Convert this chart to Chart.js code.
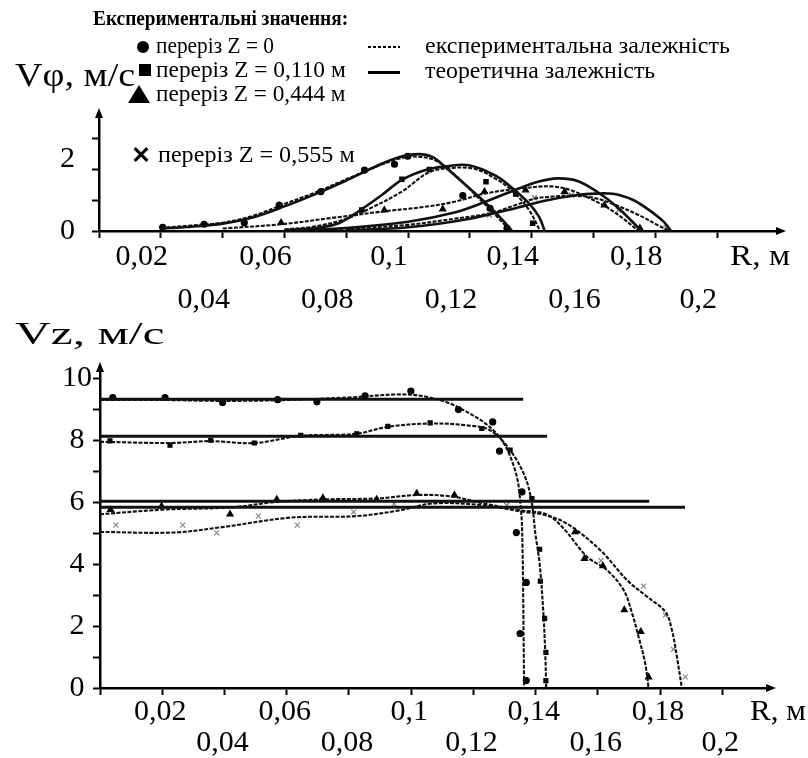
<!DOCTYPE html>
<html>
<head>
<meta charset="utf-8">
<script src="https://cdn.jsdelivr.net/npm/chart.js@4.4.1/dist/chart.umd.min.js"></script>
<style>
  html, body { margin: 0; padding: 0; background: #fff; }
  #page { position: relative; width: 808px; height: 758px; overflow: hidden;
          font-family: 'Liberation Serif', 'Times New Roman', serif; color: #000; }
  canvas { position: absolute; left: 0; }
  .t { position: absolute; white-space: nowrap; line-height: 1; transform-origin: 0 50%; }
  .ico { position: absolute; }
</style>
</head>
<body>
<div id="page">
  <canvas id="topChart" width="808" height="330" style="top:0"></canvas>
  <canvas id="botChart" width="808" height="428" style="top:330px"></canvas>

  <div class="t" data-w="255" style="left:93px;top:20px;font-size:21px;font-weight:bold">Експериментальні значення:</div>

  <div class="ico" style="left:137px;top:41px;width:12px;height:12px;border-radius:50%;background:#000"></div>
  <div class="t" data-w="118" style="left:156px;top:47px;font-size:23px">переріз Z = 0</div>

  <div class="ico" style="left:139px;top:64px;width:12px;height:12px;background:#000"></div>
  <div class="t" data-w="190" style="left:156px;top:71px;font-size:23px">переріз Z = 0,110 м</div>

  <div class="ico" style="left:128px;top:85px;width:0;height:0;border-left:11px solid transparent;border-right:11px solid transparent;border-bottom:18px solid #000"></div>
  <div class="t" data-w="190" style="left:156px;top:95px;font-size:23px">переріз Z = 0,444 м</div>

  <div class="ico" style="left:132px;top:152.5px;width:18px;height:3px;background:#000;transform:rotate(45deg)"></div>
  <div class="ico" style="left:132px;top:152.5px;width:18px;height:3px;background:#000;transform:rotate(-45deg)"></div>
  <div class="t" data-w="197" style="left:158px;top:155px;font-size:24px">переріз Z = 0,555 м</div>

  <div class="ico" style="left:368px;top:46px;width:32px;height:2px;background:repeating-linear-gradient(90deg,#000 0 3px,transparent 3px 5px)"></div>
  <div class="t" data-w="305" style="left:425px;top:47px;font-size:23px">експериментальна залежність</div>

  <div class="ico" style="left:368px;top:70.5px;width:32px;height:3px;background:#000"></div>
  <div class="t" data-w="230" style="left:425px;top:72px;font-size:23px">теоретична залежність</div>

  <div class="t" data-w="120" style="left:15px;top:77px;font-size:34px">Vφ, м/с</div>
  <div class="t" data-w="60" style="left:730px;top:256px;font-size:30px">R, м</div>
  <div class="t" data-w="150" style="left:15px;top:335px;font-size:32px">Vz, м/с</div>
  <div class="t" data-w="56" style="left:750px;top:711px;font-size:30px">R, м</div>
</div>

<script>
// ---- top chart: V_phi(R) ----
// Z = 0
const topR0th  = [0.020, 0.030, 0.040, 0.050, 0.060, 0.070, 0.080, 0.090, 0.097, 0.1035, 0.108, 0.112, 0.118, 0.125, 0.130, 0.1337];
const topV0th  = [0.08, 0.14, 0.24, 0.45, 0.80, 1.20, 1.64, 2.12, 2.40, 2.50, 2.40, 2.08, 1.55, 0.92, 0.42, 0.0];
const topR0exp = [0.020, 0.030, 0.040, 0.050, 0.060, 0.070, 0.080, 0.090, 0.097, 0.102, 0.1088, 0.1152, 0.1229, 0.1283, 0.1326];
const topV0exp = [0.10, 0.18, 0.27, 0.50, 0.88, 1.25, 1.68, 2.10, 2.35, 2.42, 2.30, 1.82, 1.06, 0.52, 0.05];
const topR0pts = [0.0206, 0.034, 0.047, 0.0583, 0.0718, 0.0859, 0.0956, 0.0999, 0.1177, 0.1265, 0.132];
const topV0pts = [0.12, 0.22, 0.27, 0.84, 1.28, 1.98, 2.17, 2.43, 1.15, 0.74, 0.09];
// Z = 0.110 m
const topR1th  = [0.060, 0.070, 0.0775, 0.085, 0.0915, 0.098, 0.1056, 0.112, 0.1197, 0.1283, 0.1337, 0.1391, 0.1424, 0.1442];
const topV1th  = [0.03, 0.10, 0.25, 0.71, 1.17, 1.66, 1.98, 2.10, 2.14, 1.80, 1.40, 0.90, 0.46, 0.0];
const topR1exp = [0.060, 0.070, 0.080, 0.088, 0.098, 0.1066, 0.114, 0.1215, 0.128, 0.134, 0.139, 0.1425];
const topV1exp = [0.05, 0.15, 0.40, 0.75, 1.28, 1.90, 2.05, 2.02, 1.72, 1.28, 0.70, 0.05];
const topR1pts = [0.085, 0.098, 0.1069, 0.1252, 0.1348, 0.1403];
const topV1pts = [0.68, 1.68, 2.00, 1.60, 1.20, 0.25];
// Z = 0.444 m
const topR2th  = [0.060, 0.080, 0.100, 0.115, 0.125, 0.135, 0.142, 0.1484, 0.155, 0.1615, 0.168, 0.1755];
const topV2th  = [0.02, 0.10, 0.30, 0.60, 0.95, 1.35, 1.60, 1.71, 1.62, 1.25, 0.75, 0.0];
const topR2exp = [0.040, 0.059, 0.075, 0.0923, 0.105, 0.115, 0.125, 0.138, 0.146, 0.152, 0.1575, 0.1635, 0.169, 0.1745];
const topV2exp = [0.08, 0.22, 0.42, 0.64, 0.78, 0.95, 1.22, 1.40, 1.45, 1.35, 1.12, 0.82, 0.45, 0.0];
const topR2pts = [0.0589, 0.0923, 0.1112, 0.1247, 0.138, 0.1506, 0.1635, 0.175];
const topV2pts = [0.27, 0.68, 0.71, 1.28, 1.33, 1.28, 0.84, 0.09];
// Z = 0.555 m
const topR3th  = [0.080, 0.100, 0.120, 0.135, 0.145, 0.155, 0.162, 0.1646, 0.168, 0.173, 0.178, 0.1825, 0.1851];
const topV3th  = [0.02, 0.12, 0.40, 0.75, 1.00, 1.17, 1.22, 1.22, 1.18, 1.00, 0.68, 0.32, 0.0];
const topR3exp = [0.060, 0.080, 0.100, 0.115, 0.1263, 0.135, 0.1409, 0.147, 0.1528, 0.160, 0.167, 0.175, 0.181, 0.1845];
const topV3exp = [0.02, 0.08, 0.20, 0.40, 0.57, 0.85, 1.05, 1.12, 1.15, 1.08, 0.85, 0.50, 0.18, 0.0];
const topR3pts = [0.1263, 0.1409, 0.1528, 0.168, 0.1835];
const topV3pts = [0.52, 1.08, 1.17, 0.68, 0.12];

// ---- bottom chart: V_z(R) ----
// theoretical levels and where they end
const botTheoryV   = [9.32, 8.13, 6.03, 5.84];
const botTheoryEnd = [0.136, 0.1437, 0.1765, 0.188];
// Z = 0
const botR0 = [0, 0.020, 0.040, 0.060, 0.080, 0.0965, 0.105, 0.115, 0.1275, 0.1334, 0.1353, 0.1358, 0.1361, 0.1363];
const botV0 = [9.30, 9.30, 9.27, 9.30, 9.38, 9.48, 9.40, 9.07, 8.21, 7.03, 5.74, 4.45, 2.00, 0];
const botR0pts = [0.0041, 0.0209, 0.0394, 0.0571, 0.0697, 0.0852, 0.0999, 0.1152, 0.1262, 0.1284, 0.1356, 0.1338, 0.137, 0.135, 0.137];
const botV0pts = [9.38, 9.38, 9.22, 9.31, 9.24, 9.43, 9.59, 8.99, 8.59, 7.65, 6.33, 5.02, 3.41, 1.76, 0.24];
// Z = 0.110 m
const botR1 = [0, 0.0225, 0.0354, 0.0498, 0.0643, 0.0825, 0.0922, 0.1061, 0.118, 0.1254, 0.1318, 0.1366, 0.1388, 0.1399, 0.1413, 0.1425, 0.1431, 0.1434];
const botV1 = [7.95, 7.91, 7.97, 7.91, 8.14, 8.21, 8.43, 8.54, 8.48, 8.32, 7.68, 6.82, 5.96, 5.00, 4.00, 2.40, 1.10, 0];
const botR1pts = [0.0032, 0.0225, 0.0356, 0.0496, 0.0645, 0.0825, 0.0925, 0.1061, 0.1227, 0.1318, 0.1388, 0.1413, 0.1415, 0.1429, 0.1433, 0.1433];
const botV1pts = [7.98, 7.84, 8.00, 7.91, 8.16, 8.21, 8.45, 8.56, 8.38, 7.68, 6.12, 4.48, 3.45, 2.25, 1.15, 0.24];
// Z = 0.444 m
const botR2 = [0, 0.0204, 0.0418, 0.0568, 0.0718, 0.089, 0.1018, 0.1125, 0.1233, 0.135, 0.1436, 0.149, 0.1565, 0.1629, 0.1683, 0.171, 0.1731, 0.1752, 0.1763];
const botV2 = [5.61, 5.76, 5.83, 6.01, 6.09, 6.12, 6.23, 6.19, 5.96, 5.74, 5.60, 5.15, 4.24, 3.81, 3.16, 2.41, 1.65, 0.80, 0];
const botR2pts = [0.0034, 0.0198, 0.0418, 0.0568, 0.0716, 0.0889, 0.1018, 0.1139, 0.1527, 0.1557, 0.1616, 0.1685, 0.1738, 0.1763];
const botV2pts = [5.76, 5.87, 5.61, 6.09, 6.14, 6.09, 6.28, 6.23, 5.04, 4.18, 3.94, 2.52, 1.82, 0.35];
// Z = 0.555 m
const botR3 = [0, 0.0236, 0.0397, 0.0611, 0.0825, 0.0965, 0.1071, 0.1232, 0.136, 0.1424, 0.150, 0.1608, 0.1694, 0.1758, 0.1817, 0.1838, 0.1854, 0.187];
const botV3 = [5.04, 5.02, 5.20, 5.50, 5.55, 5.74, 5.96, 5.90, 5.69, 5.60, 5.31, 4.45, 3.48, 2.95, 2.46, 1.87, 1.01, 0];
const botR3pts = [0.0051, 0.0266, 0.0375, 0.0509, 0.0634, 0.0815, 0.0945, 0.1307, 0.161, 0.1747, 0.1817, 0.1843, 0.1881];
const botV3pts = [5.26, 5.26, 5.01, 5.55, 5.26, 5.69, 5.94, 5.90, 4.11, 3.29, 2.35, 1.25, 0.36];

const FONT = "'Liberation Serif', 'Times New Roman', serif";
const xy = (R, V) => R.map((r, i) => ({ x: r, y: V[i] }));
const lbl = v => String(+v.toFixed(2)).replace('.', ',');

function curve(R, V, dashed, width) {
  return {
    data: xy(R, V),
    borderColor: '#111',
    borderWidth: width || (dashed ? 2.1 : 2.6),
    borderDash: dashed ? [4, 1.5] : [],
    pointRadius: 0,
    tension: 0.35,
    fill: false,
    clip: false,
  };
}

function marks(R, V, style, size, color) {
  return {
    data: xy(R, V),
    showLine: false,
    pointStyle: style,
    pointRadius: size,
    pointBackgroundColor: color,
    pointBorderColor: color,
    pointBorderWidth: 1.2,
    clip: false,
  };
}

// arrow heads at the ends of both axes
const arrows = {
  id: 'arrows',
  afterDraw(chart) {
    const { ctx, chartArea: a } = chart;
    ctx.save();
    ctx.fillStyle = '#000';
    ctx.beginPath();
    ctx.moveTo(a.left, a.top - 7);
    ctx.lineTo(a.left - 4, a.top + 3);
    ctx.lineTo(a.left + 4, a.top + 3);
    ctx.fill();
    ctx.beginPath();
    ctx.moveTo(a.right + 7, a.bottom);
    ctx.lineTo(a.right - 3, a.bottom - 4);
    ctx.lineTo(a.right - 3, a.bottom + 4);
    ctx.fill();
    ctx.restore();
  },
};

function xAxis(max, fitH, labelOffset, lineHeight, padding) {
  return {
    type: 'linear',
    min: 0,
    max,
    afterBuildTicks: s => { s.ticks = s.ticks.filter(t => t.value < 0.2005); },
    afterFit: s => { s.height = fitH; },
    border: { color: '#000', width: 2.5 },
    grid: { drawOnChartArea: false, drawTicks: true, tickLength: 7, tickColor: '#000', tickWidth: 2 },
    ticks: {
      stepSize: 0.02,
      includeBounds: false,
      autoSkip: false,
      maxRotation: 0,
      labelOffset,
      padding,
      color: '#000',
      font: { family: FONT, size: 30, lineHeight },
      callback: (v, i) => v === 0 ? '' : (i % 2 ? [lbl(v), ''] : ['', lbl(v)]),
    },
  };
}

function yAxis(max, fitW, tickOpts) {
  return {
    min: 0,
    max,
    afterFit: s => { s.width = fitW; },
    border: { color: '#000', width: 2.5 },
    grid: { drawOnChartArea: false, drawTicks: true, tickLength: 7, tickColor: '#000', tickWidth: 2 },
    ticks: Object.assign({ stepSize: 1, includeBounds: false, autoSkip: false, color: '#000' }, tickOpts),
  };
}

function baseOptions(padding, scales) {
  return {
    responsive: false,
    animation: false,
    layout: { padding },
    plugins: { legend: { display: false }, tooltip: { enabled: false } },
    scales,
  };
}

new Chart(document.getElementById('topChart'), {
  type: 'line',
  data: {
    datasets: [
      curve(topR0th, topV0th, false),
      curve(topR1th, topV1th, false),
      curve(topR2th, topV2th, false),
      curve(topR3th, topV3th, false),
      curve(topR0exp, topV0exp, true),
      curve(topR1exp, topV1exp, true),
      curve(topR2exp, topV2exp, true),
      curve(topR3exp, topV3exp, true),
      marks(topR0pts, topV0pts, 'circle', 3, '#000'),
      marks(topR1pts, topV1pts, 'rect', 3, '#000'),
      marks(topR2pts, topV2pts, 'triangle', 3.5, '#000'),
      marks(topR3pts, topV3pts, 'crossRot', 3.5, '#777'),
    ],
  },
  options: baseOptions({ left: 0, top: 115, right: 29, bottom: 0 }, {
    x: xAxis(0.22, 99, -19, 1.43, -2),
    y: yAxis(3.77, 99, {
      padding: 17,
      font: { family: FONT, size: 30, lineHeight: 0.7 },
      callback: v => v === 0 ? '0' : (v === 2 ? ['2', ''] : ''),
    }),
  }),
  plugins: [arrows],
});

const theoryLines = botTheoryV.map((v, i) => curve([0, botTheoryEnd[i]], [v, v], false, 3));

new Chart(document.getElementById('botChart'), {
  type: 'line',
  data: {
    datasets: [
      ...theoryLines,
      curve(botR0, botV0, true),
      curve(botR1, botV1, true),
      curve(botR2, botV2, true),
      curve(botR3, botV3, true),
      marks(botR0pts, botV0pts, 'circle', 3, '#000'),
      marks(botR1pts, botV1pts, 'rect', 2.8, '#000'),
      marks(botR2pts, botV2pts, 'triangle', 3.5, '#000'),
      marks(botR3pts, botV3pts, 'crossRot', 3.5, '#888'),
    ],
  },
  options: baseOptions({ left: 0, top: 39, right: 39, bottom: 0 }, {
    x: xAxis(0.215, 70, -2, 1.03, 1.5),
    y: yAxis(10.3, 100, {
      padding: 1,
      crossAlign: 'center',
      font: { family: FONT, size: 30 },
      callback: v => v % 2 === 0 ? String(v) : '',
    }),
  }),
  plugins: [arrows],
});

// squeeze the condensed scan lettering to its measured width
function fitText() {
  document.querySelectorAll('.t').forEach(el => {
    el.style.transform = 'none';
    const k = (+el.dataset.w) / el.offsetWidth;
    el.style.transform = `translateY(-55%) scaleX(${k})`;
  });
}
fitText();
if (document.fonts) document.fonts.ready.then(fitText);
</script>
</body>
</html>
